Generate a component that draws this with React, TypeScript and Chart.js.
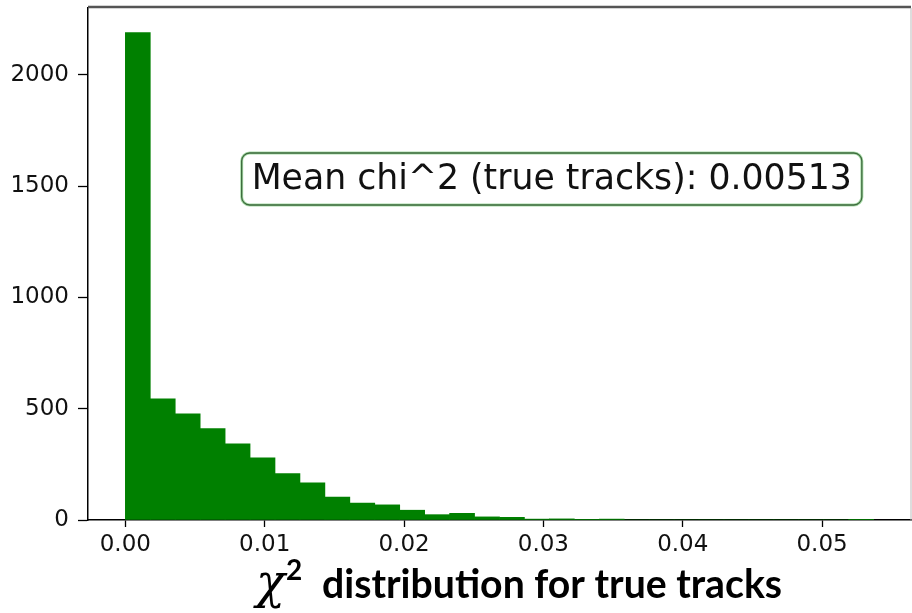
import React, { useEffect, useRef } from "react";
import { Chart, registerables } from "chart.js";

Chart.register(...registerables);

// Histogram: 30 bins of equal width starting at 0
const BIN_WIDTH = 0.00179;
const COUNTS = [
  2190, 544, 477, 411, 342, 279, 209, 167, 103, 76,
  68, 44, 24, 30, 14, 12, 4, 5, 1, 4,
  0, 0, 0, 0, 0, 0, 0, 0, 0, 1,
];
const X_TICKS = [0, 0.01, 0.02, 0.03, 0.04, 0.05];
const X_TICK_LABELS = ["0.00", "0.01", "0.02", "0.03", "0.04", "0.05"];
const Y_TICKS = [0, 500, 1000, 1500, 2000];
const Y_TICK_LABELS = ["0", "500", "1000", "1500", "2000"];
const X_MIN = -0.00268;
const X_MAX = 0.05638;
const Y_MAX = 2300;
const ANNOTATION = "Mean chi^2 (true tracks): 0.00513";
const TITLE_SYMBOL = "χ";
const TITLE_SUP = "2";
const TITLE_REST = "distribution for true tracks";

const W = 912;
const H = 613;

const overlayPlugin = {
  id: "overlay",
  afterDraw(chart: any) {
    const { ctx, chartArea } = chart;
    const { left, right, top, bottom } = chartArea;
    ctx.save();
    // top & right spines
    ctx.strokeStyle = "#555";
    ctx.lineWidth = 2.5;
    ctx.beginPath();
    ctx.moveTo(left, top - 1);
    ctx.lineTo(right, top - 1);
    ctx.stroke();
    ctx.strokeStyle = "#bbb";
    ctx.lineWidth = 1;
    ctx.beginPath();
    ctx.moveTo(right, top);
    ctx.lineTo(right, bottom);
    ctx.stroke();

    // annotation box
    const cx = left + (right - left) * 0.5635;
    const cy = top + (bottom - top) * 0.334;
    ctx.font = '34.7px "DejaVu Sans"';
    const tw = ctx.measureText(ANNOTATION).width;
    const bx = cx - tw / 2 - 10;
    const bw = tw + 20;
    const by = cy - 26;
    const bh = 52;
    const r = 8;
    ctx.beginPath();
    ctx.moveTo(bx + r, by);
    ctx.lineTo(bx + bw - r, by);
    ctx.arcTo(bx + bw, by, bx + bw, by + r, r);
    ctx.lineTo(bx + bw, by + bh - r);
    ctx.arcTo(bx + bw, by + bh, bx + bw - r, by + bh, r);
    ctx.lineTo(bx + r, by + bh);
    ctx.arcTo(bx, by + bh, bx, by + bh - r, r);
    ctx.lineTo(bx, by + r);
    ctx.arcTo(bx, by, bx + r, by, r);
    ctx.closePath();
    ctx.fillStyle = "#fff";
    ctx.fill();
    ctx.strokeStyle = "#a8dca8";
    ctx.lineWidth = 3;
    ctx.stroke();
    ctx.strokeStyle = "#3d6a3d";
    ctx.lineWidth = 1.3;
    ctx.stroke();
    ctx.fillStyle = "#111";
    ctx.textAlign = "center";
    ctx.textBaseline = "middle";
    ctx.fillText(ANNOTATION, cx, cy + 1);

    // bottom title
    const baseline = 598;
    ctx.textAlign = "left";
    ctx.textBaseline = "alphabetic";
    ctx.fillStyle = "#000";
    ctx.font = 'italic 48px "DejaVu Serif"';
    const chiX = 256;
    ctx.fillText(TITLE_SYMBOL, chiX, baseline);
    const chiW = ctx.measureText(TITLE_SYMBOL).width;
    ctx.font = 'bold 28px "Lato"';
    ctx.fillText(TITLE_SUP, chiX + chiW + 1, baseline - 18);
    const restX = 322;
    const target = 782 - restX;
    ctx.font = 'bold 40px "Lato"';
    const m = ctx.measureText(TITLE_REST).width;
    const size = (40 * target) / m;
    ctx.font = `bold ${size.toFixed(1)}px "Lato"`;
    ctx.fillText(TITLE_REST, restX, baseline);
    ctx.restore();
  },
};

export default function App() {
  const ref = useRef<HTMLCanvasElement | null>(null);
  useEffect(() => {
    if (!ref.current) return;
    const data = COUNTS.map((c, i) => ({ x: (i + 0.5) * BIN_WIDTH, y: c }));
    const tickFont = { family: "DejaVu Sans", size: 23 };
    const chart = new Chart(ref.current, {
      type: "bar",
      data: {
        datasets: [
          {
            data,
            backgroundColor: "#008000",
            borderWidth: 0,
            barPercentage: 1,
            categoryPercentage: 1,
          } as any,
        ],
      },
      options: {
        animation: false,
        responsive: false,
        devicePixelRatio: 1,
        layout: { padding: { left: 0, top: 8, right: 1, bottom: 0 } },
        plugins: { legend: { display: false }, tooltip: { enabled: false } },
        scales: {
          x: {
            type: "linear",
            min: X_MIN,
            max: X_MAX,
            offset: false,
            afterBuildTicks: (s: any) => {
              s.ticks = X_TICKS.map((v) => ({ value: v }));
            },
            afterFit: (s: any) => {
              s.height = 93;
              s.paddingLeft = 0;
              s.paddingRight = 0;
              s.paddingTop = 0;
              s.paddingBottom = 0;
            },
            ticks: {
              autoSkip: false,
              maxRotation: 0,
              padding: 4,
              color: "#111",
              font: tickFont,
              callback: (_v: any, i: number) => X_TICK_LABELS[i],
            },
            grid: {
              offset: false,
              drawOnChartArea: false,
              drawTicks: true,
              tickLength: 7,
              tickWidth: 1.3,
              tickColor: "#000",
            },
            border: { display: true, color: "#000", width: 1.5 },
          } as any,
          y: {
            type: "linear",
            min: 0,
            max: Y_MAX,
            afterBuildTicks: (s: any) => {
              s.ticks = Y_TICKS.map((v) => ({ value: v }));
            },
            afterFit: (s: any) => {
              s.width = 88;
              s.paddingLeft = 0;
              s.paddingRight = 0;
              s.paddingTop = 0;
              s.paddingBottom = 0;
            },
            ticks: {
              padding: 9,
              color: "#111",
              font: tickFont,
              callback: (_v: any, i: number) => Y_TICK_LABELS[i],
            },
            grid: {
              drawOnChartArea: false,
              drawTicks: true,
              tickLength: 10,
              tickWidth: 1.3,
              tickColor: "#000",
            },
            border: { display: true, color: "#000", width: 1.5 },
          } as any,
        },
      },
      plugins: [overlayPlugin],
    });
    return () => chart.destroy();
  }, []);
  return (
    <div style={{ position: "fixed", left: 0, top: 0, width: W, height: H, background: "#fff" }}>
      <canvas ref={ref} width={W} height={H} style={{ width: W, height: H }} />
    </div>
  );
}
